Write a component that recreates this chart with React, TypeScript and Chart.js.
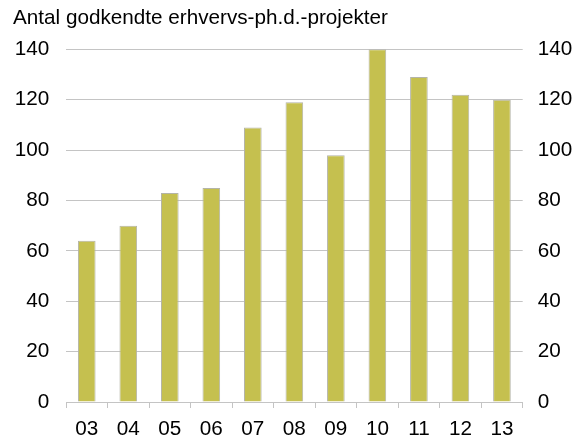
import React, { useEffect, useRef } from "react";
import { Chart, registerables } from "chart.js";

Chart.register(...registerables);

const categories = ["03", "04", "05", "06", "07", "08", "09", "10", "11", "12", "13"];
const projects = [64, 70, 83, 85, 109, 119, 98, 140, 129, 122, 120];
const yTicks = [0, 20, 40, 60, 80, 100, 120, 140];
const title = "Antal godkendte erhvervs-ph.d.-projekter";

const FONT = "'Liberation Sans', Arial, sans-serif";
const SIZE = 20.7;

export default function App() {
  const ref = useRef<HTMLCanvasElement>(null);
  useEffect(() => {
    document.body.style.margin = "0";
    const chart = new Chart(ref.current!, {
      type: "bar",
      data: {
        labels: categories,
        datasets: [
          {
            data: projects,
            backgroundColor: "#c5c04f",
            borderColor: "#b4b4a8",
            borderWidth: 1,
            categoryPercentage: 1,
            barPercentage: 0.425,
          },
        ],
      },
      options: {
        responsive: false,
        animation: false,
        layout: { padding: { top: 0, left: 13, right: 0, bottom: 0 } },
        plugins: {
          legend: { display: false },
          tooltip: { enabled: false },
          title: {
            display: true,
            text: title,
            align: "start",
            color: "#000",
            font: { family: FONT, size: SIZE, weight: "normal", lineHeight: 1.2 },
            padding: { top: 5.4, bottom: 19.1 },
          },
        },
        scales: {
          x: {
            offset: true,
            grid: {
              offset: true,
              drawOnChartArea: false,
              drawTicks: true,
              tickLength: 6,
              color: "#c4c4c4",
            },
            border: { display: true, color: "#c4c4c4" },
            ticks: { color: "#000", font: { family: FONT, size: SIZE }, padding: 9, maxRotation: 0, autoSkip: false },
            afterFit(s: any) {
              s.height = 39;
            },
          },
          y: {
            position: "left",
            min: 0,
            max: 140,
            afterBuildTicks(s: any) {
              s.ticks = yTicks.map((v) => ({ value: v }));
            },
            grid: { color: "#c4c4c4", drawTicks: false },
            border: { display: false },
            ticks: { color: "#000", font: { family: FONT, size: SIZE }, padding: 16.8 },
            afterFit(s: any) {
              s.width = 53;
            },
          },
          y2: {
            position: "right",
            min: 0,
            max: 140,
            afterBuildTicks(s: any) {
              s.ticks = yTicks.map((v) => ({ value: v }));
            },
            grid: { display: false, drawTicks: false },
            border: { display: false },
            ticks: { color: "#000", font: { family: FONT, size: SIZE }, padding: 15 },
            afterFit(s: any) {
              s.width = 62.3;
            },
          },
        },
      },
    });
    return () => chart.destroy();
  }, []);
  return <canvas ref={ref} width={585} height={441} style={{ display: "block" }} />;
}
